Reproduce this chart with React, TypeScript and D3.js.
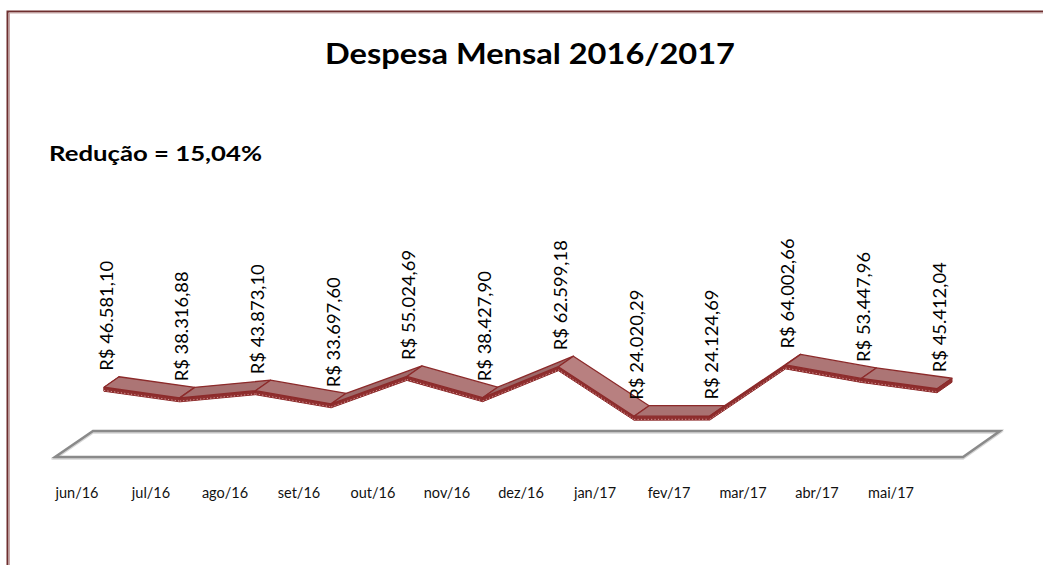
import React from "react";
import * as d3 from "d3";

const months = ["jun/16", "jul/16", "ago/16", "set/16", "out/16", "nov/16", "dez/16", "jan/17", "fev/17", "mar/17", "abr/17", "mai/17"];
const despesa = [46581.10, 38316.88, 43873.10, 33697.60, 55024.69, 38427.90, 62599.18, 24020.29, 24124.69, 64002.66, 53447.96, 45412.04];
const titleText = "Despesa Mensal 2016/2017";
const reducaoText = "Redução = 15,04%";

const W = 1043;
const H = 565;
const FONT = "Lato, 'Open Sans', sans-serif";

const brl = d3.formatLocale({ decimal: ",", thousands: ".", grouping: [3], currency: ["R$ ", ""] });
const fmt = brl.format("$,.2f");

export default function App() {
  const x = d3.scalePoint<string>().domain(months).range([104, 937]);
  const xLab = d3.scalePoint<string>().domain(months).range([77, 891]);
  const y = d3.scaleLinear().domain([0, 70000]).range([447, 357.2]);
  const dx = 15, dy = -10.5, t = 4;

  const pts = months.map((m, i) => ({ m, v: despesa[i], fx: x(m) as number, fy: y(despesa[i]) }));
  const shade = d3.scaleLinear<string>().domain([-0.7, 0, 0.7]).range(["#946262", "#a97272", "#b98181"]).clamp(true);
  const line = (p: [number, number][]) => "M" + p.map((q) => q.join(",")).join("L") + "Z";

  const segs = pts.slice(0, -1).map((p, i) => {
    const q = pts[i + 1];
    const slope = (q.fy - p.fy) / (q.fx - p.fx);
    return {
      key: p.m,
      top: line([[p.fx, p.fy], [q.fx, q.fy], [q.fx + dx, q.fy + dy], [p.fx + dx, p.fy + dy]]),
      front: line([[p.fx, p.fy], [q.fx, q.fy], [q.fx, q.fy + t], [p.fx, p.fy + t]]),
      dots: `M${p.fx},${p.fy + t - 0.8}L${q.fx},${q.fy + t - 0.8}`,
      fill: shade(slope),
    };
  });
  const cap = (p: { fx: number; fy: number }) =>
    line([[p.fx, p.fy], [p.fx + dx, p.fy + dy], [p.fx + dx, p.fy + dy + t], [p.fx, p.fy + t]]);

  // plot floor
  const floor = line([[55, 457], [963, 457], [1000, 431], [93, 431]]);

  return (
    <svg width={W} height={H} style={{ position: "absolute", left: 0, top: 0, background: "#fff" }}>
      <rect x={0} y={0} width={W} height={H} fill="#fff" />
      {/* chart border */}
      <path d={`M7.5,${H}L7.5,11.5L${W},11.5`} fill="none" stroke="#6e2f2f" strokeWidth={2} />
      <path d={`M9.5,${H}L9.5,13L${W},13`} fill="none" stroke="#c9a9a9" strokeWidth={1} />

      <text x={325} y={63.5} fontFamily={FONT} fontWeight="bold" fontSize={28.6} textLength={410} lengthAdjust="spacingAndGlyphs" fill="#000">
        {titleText}
      </text>
      <text x={49} y={161} fontFamily={FONT} fontWeight="bold" fontSize={21} textLength={213} lengthAdjust="spacingAndGlyphs" fill="#000">
        {reducaoText}
      </text>

      {/* floor */}
      <path d={floor} fill="none" stroke="#d6d6d6" strokeWidth={2.5} transform="translate(0,1.5)" />
      <path d={floor} fill="none" stroke="#8a8a8a" strokeWidth={2.5} strokeLinejoin="miter" />

      {/* ribbon */}
      <path d={cap(pts[0])} fill="#8f2f2f" stroke="#8c2a2a" strokeWidth={1} />
      {segs.map((s) => (
        <g key={s.key}>
          <path d={s.front} fill="#8f2f2f" stroke="#8c2a2a" strokeWidth={1} strokeLinejoin="round" />
          <path d={s.dots} fill="none" stroke="#d79a9a" strokeWidth={1} strokeDasharray="1.2 2.2" />
          <path d={s.top} fill={s.fill} stroke="#8c2a2a" strokeWidth={1.3} strokeLinejoin="round" />
        </g>
      ))}
      <path d={cap(pts[pts.length - 1])} fill="#8f2f2f" stroke="#8c2a2a" strokeWidth={1} />

      {/* data labels */}
      {pts.map((p) => {
        const ax = p.fx + 8.5;
        const ay = p.fy + dy - 6;
        return (
          <text key={p.m} x={0} y={0} transform={`translate(${ax},${ay}) rotate(-90)`} fontFamily={FONT} fontSize={17.5}
            textLength={110} lengthAdjust="spacingAndGlyphs" fill="#000">
            {fmt(p.v)}
          </text>
        );
      })}

      {/* category labels */}
      {months.map((m) => (
        <text key={m} x={xLab(m) as number} y={498} textAnchor="middle" fontFamily={FONT} fontSize={14.5} fill="#111">
          {m}
        </text>
      ))}
    </svg>
  );
}
